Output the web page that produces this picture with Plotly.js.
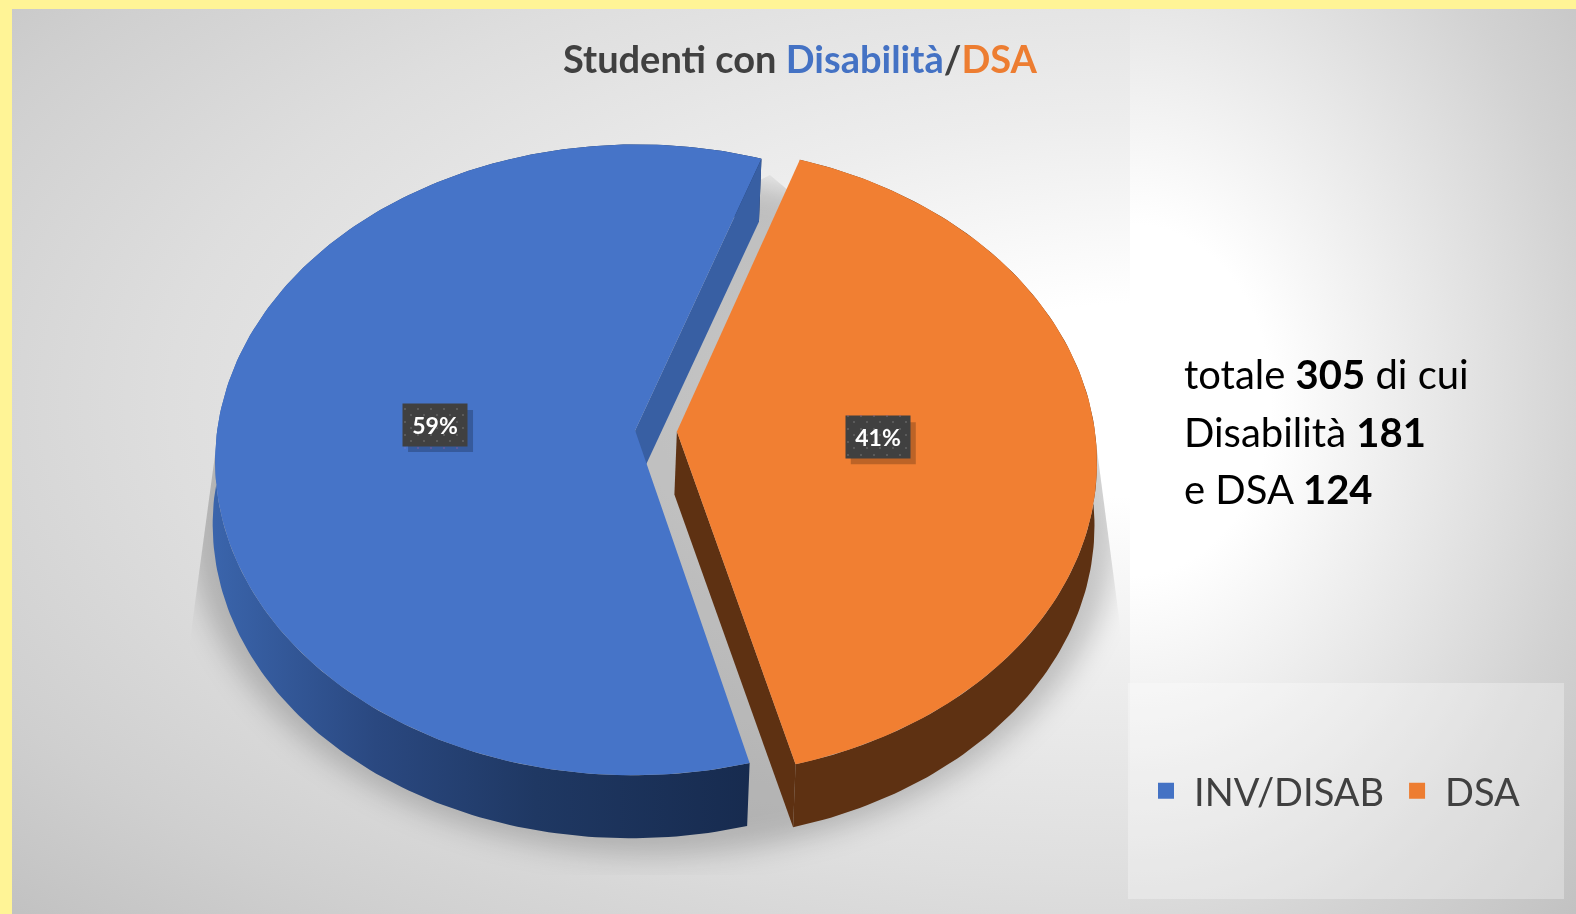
<!DOCTYPE html>
<html>
<head>
<meta charset="utf-8">
<script src="https://cdn.plot.ly/plotly-3.0.1.min.js"></script>
<style>
html,body{margin:0;padding:0;width:1576px;height:914px;overflow:hidden;background:#FFF496;}
.abs{position:absolute;}
#panel{left:12px;top:9px;width:1564px;height:905px;overflow:hidden;box-shadow:inset 0 0 0 1px rgba(0,0,0,.05);}
#panelL{left:0;top:0;width:1118px;height:905px;background:radial-gradient(ellipse 1600px 800px at 1118px 391px,#fff 0,#fff 12%,#ededed 35%,#dedede 60%,#cfcfcf 80%,#bdbdbd 100%);}
#panelR{left:1118px;top:0;width:446px;height:905px;background:radial-gradient(ellipse 640px 800px at 0px 391px,#fff 0,#fff 22%,#e6e6e6 50%,#d2d2d2 72%,#bebebe 100%);}
#shadowClip{left:0;top:0;width:1576px;height:914px;clip-path:polygon(215px 455px,770px 175px,1097px 450px,1122px 640px,1122px 875px,190px 875px,190px 640px);}
#shadow{left:188px;top:175px;width:932px;height:680px;border-radius:50%;background:rgba(0,0,0,.2);filter:blur(14px);}
#plot{left:0;top:0;width:1576px;height:914px;}
.dots{width:64px;height:42px;mix-blend-mode:lighten;pointer-events:none;
background-image:radial-gradient(circle at 1px 1px,#5a5a5a 1px,transparent 1.2px),radial-gradient(circle at 1px 1px,#5a5a5a 1px,transparent 1.2px);
background-size:13px 13px;background-position:2px 1px,8px 7px;}
</style>
</head>
<body>
<div id="panel" class="abs"><div id="panelL" class="abs"></div><div id="panelR" class="abs"></div></div>
<div id="shadowClip" class="abs"><div id="shadow" class="abs"></div></div>
<div id="plot" class="abs"></div>
<div class="abs dots" style="left:402px;top:407px"></div>
<div class="abs dots" style="left:845px;top:414px"></div>
<script>
// ---- data ----
const categories = ["INV/DISAB", "DSA"];
const values = [181, 124];
const sliceColors = ["#4674C8", "#F17F32"];
const legendColors = ["#4472C4", "#ED7D31"];

// ---- view of the tilted disc ----
const firstAngle = 165.3;          // clockwise from 12 o'clock
const pull = 0.05, labelRadius = 0.48;
const view = {cx: 656, cy: 431, a: 418, b: 312.8, k: 0.0934, dropX: -2.5, dropY: 63};

function project(u, v, drop) {
  const d = 1 + view.k * v;
  return [view.cx + view.a * u / d + (drop ? view.dropX : 0),
          view.cy - view.b * v / d + (drop ? view.dropY : 0)];
}
const rad = d => d * Math.PI / 180;
const total = values.reduce((s, v) => s + v, 0);

function sliceGeom(i) {
  let start = firstAngle;
  for (let j = 0; j < i; j++) start += 360 * values[j] / total;
  const sweep = 360 * values[i] / total;
  const mid = start + sweep / 2;
  const off = [pull * Math.sin(rad(mid)), pull * Math.cos(rad(mid))];
  const arc = [];
  const n = Math.ceil(sweep);
  for (let s = 0; s <= n; s++) {
    const t = rad(start + sweep * s / n);
    arc.push([off[0] + Math.sin(t), off[1] + Math.cos(t)]);
  }
  return {start, sweep, mid, off, arc};
}
const geoms = categories.map((_, i) => sliceGeom(i));

function polyTrace(pts, style) {
  return Object.assign({
    type: "scatter", mode: "lines", x: pts.map(p => p[0]), y: pts.map(p => p[1]),
    fill: "toself", line: {width: 0}, hoverinfo: "skip", showlegend: false
  }, style);
}
const toPts = (list, drop) => list.map(p => project(p[0], p[1], drop));

const traces = [];
// outer wall of the blue slice
{
  const g = geoms[0];
  const front = g.arc.filter(p => true);
  traces.push(polyTrace(toPts(front, false).concat(toPts(front.slice().reverse(), true)), {
    fillgradient: {type: "horizontal", start: 215, stop: 750,
      colorscale: [[0, "#3A64AB"], [0.3, "#2A4880"], [0.6, "#1F3863"], [1, "#172B4F"]]}
  }));
  // inner cut wall of the blue slice, at its far edge
  const apex = g.off, last = g.arc[g.arc.length - 1];
  traces.push(polyTrace([project(apex[0], apex[1]), project(last[0], last[1]),
                         project(last[0], last[1], true), project(apex[0], apex[1], true)],
                        {fillcolor: "#385FA3"}));
}
// walls of the orange slice
{
  const g = geoms[1];
  const apex = g.off, last = g.arc[g.arc.length - 1];
  traces.push(polyTrace(toPts(g.arc, false).concat(toPts(g.arc.slice().reverse(), true)), {fillcolor: "#5E3112"}));
  traces.push(polyTrace([project(apex[0], apex[1]), project(last[0], last[1]),
                         project(last[0], last[1], true), project(apex[0], apex[1], true)],
                        {fillcolor: "#5E3112"}));
}
// top faces
geoms.forEach((g, i) => {
  const pts = [project(g.off[0], g.off[1])].concat(toPts(g.arc, false));
  pts.push(pts[0]);
  traces.push(polyTrace(pts, {fillcolor: sliceColors[i], name: categories[i]}));
});
// legend keys
categories.forEach((c, i) => traces.push({
  type: "scatter", mode: "markers", x: [null], y: [null], name: c, showlegend: true,
  marker: {symbol: "square", size: 27, color: legendColors[i]}, hoverinfo: "skip"
}));

// labels on the slices
const shapes = [{type: "rect", xref: "x", yref: "y", x0: 1128, x1: 1564, y0: 683, y1: 899,
                 fillcolor: "rgba(255,255,255,0.3)", line: {width: 0}, layer: "below"}];
const annotations = [];
const fontName = "Lato, Carlito, 'Open Sans', sans-serif";
geoms.forEach((g, i) => {
  const u = g.off[0] + labelRadius * Math.sin(rad(g.mid));
  const v = g.off[1] + labelRadius * Math.cos(rad(g.mid));
  const c = project(u, v);
  shapes.push({type: "rect", xref: "x", yref: "y", x0: c[0] - 27, x1: c[0] + 38, y0: c[1] - 15, y1: c[1] + 27,
               fillcolor: "rgba(0,0,0,0.22)", line: {width: 0}, layer: "above"});
  annotations.push({x: c[0], y: c[1], xref: "x", yref: "y", showarrow: false,
    text: "<b>" + Math.round(values[i] / total * 100) + "%</b>",
    width: 64, height: 42, bgcolor: "#404040", borderpad: 0, valign: "middle",
    font: {family: fontName, size: 23, color: "#FFFFFF"}});
});

// side note
const noteLines = [
  "totale <b>" + total + "</b> di cui",
  "Disabilità <b>" + values[0] + "</b>",
  "e DSA <b>" + values[1] + "</b>"
];
noteLines.forEach((t, i) => annotations.push({
  x: 1182, y: 374 + i * 57.5, xref: "x", yref: "y", xanchor: "left", yanchor: "middle", align: "left",
  showarrow: false, text: t, font: {family: fontName, size: 40, color: "#000000"}
}));

const layout = {
  width: 1576, height: 914, margin: {l: 0, r: 0, t: 0, b: 0, pad: 0},
  paper_bgcolor: "rgba(0,0,0,0)", plot_bgcolor: "rgba(0,0,0,0)",
  title: {
    text: '<b><span style="color:#404040">Studenti con </span><span style="color:#4472C4">Disabilità</span><span style="color:#404040">/</span><span style="color:#ED7D31">DSA</span></b>',
    x: 800 / 1576, xanchor: "center", y: 1 - 60 / 914, yanchor: "middle",
    font: {family: fontName, size: 38, color: "#404040"}
  },
  xaxis: {range: [0, 1576], visible: false, fixedrange: true},
  yaxis: {range: [914, 0], visible: false, fixedrange: true},
  shapes, annotations,
  legend: {orientation: "h", x: 1138 / 1576, xanchor: "left", y: 1 - 791 / 914, yanchor: "middle",
           bgcolor: "rgba(0,0,0,0)", itemsizing: "trace", itemwidth: 46,
           font: {family: fontName, size: 38, color: "#404040"}}
};
Plotly.newPlot("plot", traces, layout, {displayModeBar: false, staticPlot: true});
</script>
</body>
</html>
